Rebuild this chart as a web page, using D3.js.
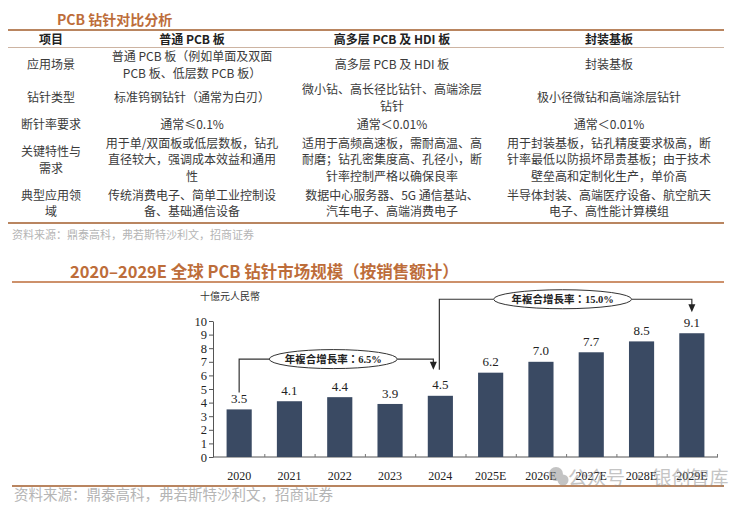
<!DOCTYPE html>
<html>
<head>
<meta charset="utf-8">
<script src="https://cdn.jsdelivr.net/npm/d3@7"></script>
<style>
  body { margin: 0; background: #fff; }
  svg { display: block; }
</style>
</head>
<body>
<svg id="chart" width="739" height="508"></svg>
<script>
// table content
const tableHeaders = ['项目', '普通 PCB 板', '高多层 PCB 及 HDI 板', '封装基板'];
const tableRows = [
  [['应用场景'], ['普通 PCB 板（例如单面及双面', 'PCB 板、低层数 PCB 板）'], ['高多层 PCB 及 HDI 板'], ['封装基板']],
  [['钻针类型'], ['标准钨钢钻针（通常为白刃）'], ['微小钻、高长径比钻针、高端涂层', '钻针'], ['极小径微钻和高端涂层钻针']],
  [['断针率要求'], ['通常≤0.1%'], ['通常＜0.01%'], ['通常＜0.01%']],
  [['关键特性与', '需求'], ['用于单/双面板或低层数板，钻孔', '直径较大，强调成本效益和通用', '性'],
    ['适用于高频高速板，需耐高温、高', '耐磨；钻孔密集度高、孔径小，断', '针率控制严格以确保良率'],
    ['用于封装基板，钻孔精度要求极高，断', '针率最低以防损坏昂贵基板；由于技术', '壁垒高和定制化生产，单价高']],
  [['典型应用领', '域'], ['传统消费电子、简单工业控制设', '备、基础通信设备'], ['数据中心服务器、5G 通信基站、', '汽车电子、高端消费电子'],
    ['半导体封装、高端医疗设备、航空航天', '电子、高性能计算模组']]
];

// chart data
const years = ['2020', '2021', '2022', '2023', '2024', '2025E', '2026E', '2027E', '2028E', '2029E'];
const sales = [3.5, 4.1, 4.4, 3.9, 4.5, 6.2, 7.0, 7.7, 8.5, 9.1];
const yTicks = [0, 1, 2, 3, 4, 5, 6, 7, 8, 9, 10];
const cagrLabels = ['年複合增長率：6.5%', '年複合增長率：15.0%'];
const cagrFrom = ['2020', '2024'];
const cagrTo = ['2024', '2029E'];
const sourceText = '资料来源：鼎泰高科，弗若斯特沙利文，招商证券';

const brown = '#bd6d3a';
const ruleColor = '#b98560';
const txt = '#3a3a3a';
const cjk = '"Noto Sans CJK SC", "Noto Sans", sans-serif';
const serif = '"Liberation Serif", "Noto Sans CJK TC", serif';

const svg = d3.select('#chart');
svg.append('rect').attr('width', 739).attr('height', 508).attr('fill', '#fff');

//---------------- table ----------------
svg.append('text')
  .attr('x', 57).attr('y', 25)
  .attr('font-family', cjk).attr('font-size', 14).attr('font-weight', 700)
  .attr('fill', brown)
  .text('PCB 钻针对比分析');

svg.append('line').attr('x1', 8).attr('x2', 724).attr('y1', 30).attr('y2', 30)
  .attr('stroke', ruleColor).attr('stroke-width', 2);
svg.append('line').attr('x1', 8).attr('x2', 724).attr('y1', 47.5).attr('y2', 47.5)
  .attr('stroke', '#cdb4a2').attr('stroke-width', 1);
svg.append('line').attr('x1', 8).attr('x2', 724).attr('y1', 223).attr('y2', 223)
  .attr('stroke', ruleColor).attr('stroke-width', 2);

const colX = [51, 192, 392, 609];
const rowY = [65, 98, 125, 160, 203.5];
const lineH = 16.5;

svg.append('g').selectAll('text')
  .data(tableHeaders)
  .join('text')
  .attr('x', (d, i) => colX[i]).attr('y', 40)
  .attr('dy', '0.36em')
  .attr('text-anchor', 'middle')
  .attr('font-family', cjk).attr('font-size', 12).attr('font-weight', 700)
  .attr('fill', '#222')
  .text(d => d);

tableRows.forEach((row, r) => {
  row.forEach((cell, c) => {
    const top = rowY[r] - (cell.length - 1) * lineH / 2;
    cell.forEach((line, k) => {
      svg.append('text')
        .attr('x', colX[c]).attr('y', top + k * lineH)
        .attr('dy', '0.36em')
        .attr('text-anchor', 'middle')
        .attr('font-family', cjk).attr('font-size', 12)
        .attr('fill', txt)
        .text(line);
    });
  });
});

svg.append('text')
  .attr('x', 12).attr('y', 235).attr('dy', '0.36em')
  .attr('font-family', cjk).attr('font-size', 11)
  .attr('fill', '#b5b5b5')
  .text(sourceText);

//---------------- bar chart ----------------
svg.append('text')
  .attr('x', 70).attr('y', 278)
  .attr('font-family', cjk).attr('font-size', 16.5).attr('font-weight', 700)
  .attr('fill', brown)
  .text('2020–2029E 全球 PCB 钻针市场规模（按销售额计）');
svg.append('line').attr('x1', 12).attr('x2', 724).attr('y1', 282).attr('y2', 282)
  .attr('stroke', brown).attr('stroke-width', 1.5);

const x = d3.scaleBand().domain(years).range([213, 718]).paddingInner(0.5).paddingOuter(0.27);
const y = d3.scaleLinear().domain([0, 10]).range([457, 321]);
const cx = d => x(d) + x.bandwidth() / 2;
const yv = d => y(sales[years.indexOf(d)]);

svg.append('text')
  .attr('x', 200).attr('y', 296).attr('dy', '0.36em')
  .attr('font-family', '"Noto Sans CJK TC", sans-serif').attr('font-size', 10)
  .attr('fill', '#333')
  .text('十億元人民幣');

// y axis
const yAxis = svg.append('g')
  .attr('transform', 'translate(213,0)')
  .call(d3.axisLeft(y).tickValues(yTicks).tickSize(4).tickSizeOuter(0).tickPadding(2));
yAxis.selectAll('path, line').attr('stroke', '#555');
yAxis.selectAll('text').attr('font-family', serif).attr('font-size', 12.5).attr('fill', '#222');

// x axis
svg.append('line')
  .attr('x1', x.range()[0]).attr('x2', x.range()[1])
  .attr('y1', y(0)).attr('y2', y(0))
  .attr('stroke', '#555');
svg.append('g').selectAll('line')
  .data(years)
  .join('line')
  .attr('x1', d => x(d) + x.step() * (1 - x.paddingInner() / 2) + 0.5)
  .attr('x2', d => x(d) + x.step() * (1 - x.paddingInner() / 2) + 0.5)
  .attr('y1', y(0)).attr('y2', y(0) - 3)
  .attr('stroke', '#777');
svg.append('g').selectAll('text')
  .data(years)
  .join('text')
  .attr('x', d => cx(d)).attr('y', 476).attr('dy', '0.36em')
  .attr('text-anchor', 'middle')
  .attr('font-family', serif).attr('font-size', 12)
  .attr('fill', '#222')
  .text(d => d);

// bars
svg.append('g').selectAll('rect')
  .data(years)
  .join('rect')
  .attr('x', d => x(d))
  .attr('width', x.bandwidth())
  .attr('y', d => yv(d))
  .attr('height', d => y(0) - yv(d))
  .attr('fill', '#3a4a63');

svg.append('g').selectAll('text')
  .data(years)
  .join('text')
  .attr('x', d => cx(d)).attr('y', d => yv(d) - 11).attr('dy', '0.36em')
  .attr('text-anchor', 'middle')
  .attr('font-family', serif).attr('font-size', 13)
  .attr('fill', '#222')
  .text((d, i) => sales[i].toFixed(1));

// CAGR annotations
const ann = svg.append('g');
const arrowDown = (ax, tip) => ann.append('path')
  .attr('d', `M${ax - 3.5},${tip - 8}L${ax + 3.5},${tip - 8}L${ax},${tip}Z`)
  .attr('fill', '#222');

const annotate = (i, level, rx, startDx, endDx) => {
  const x0 = cx(cagrFrom[i]) + startDx;
  const x1 = cx(cagrTo[i]) + endDx;
  const ey = y(level);
  const ex = (x0 + x1) / 2 - 3;
  const startY = yv(cagrFrom[i]) - (i === 0 ? 17 : 26);
  const tip = yv(cagrTo[i]) - (i === 0 ? 26 : 21);
  ann.append('path')
    .attr('d', `M${x0},${startY}V${ey}H${ex - rx}M${ex + rx},${ey}H${x1}V${tip - 7}`)
    .attr('fill', 'none').attr('stroke', '#333').attr('stroke-width', 1.2);
  arrowDown(x1, tip);
  ann.append('ellipse')
    .attr('cx', ex).attr('cy', ey).attr('rx', rx).attr('ry', 9.5)
    .attr('fill', '#fff').attr('stroke', '#333').attr('stroke-width', 1);
  ann.append('text')
    .attr('x', ex).attr('y', ey).attr('dy', '0.36em')
    .attr('text-anchor', 'middle')
    .attr('font-family', serif).attr('font-size', 10.5).attr('font-weight', 700)
    .attr('fill', '#222')
    .text(cagrLabels[i]);
};
annotate(0, 7.2, 64, 0, -7);
annotate(1, 11.6, 69, -1, 0);

// bottom rule + source
svg.append('line').attr('x1', 12).attr('x2', 724).attr('y1', 486).attr('y2', 486)
  .attr('stroke', ruleColor).attr('stroke-width', 2);
svg.append('text')
  .attr('x', 14).attr('y', 495).attr('dy', '0.36em')
  .attr('font-family', cjk).attr('font-size', 14.5)
  .attr('fill', '#b5b5b5')
  .text(sourceText);

// watermark (sits over the axis labels, as in the source image)
const wm = svg.append('g').attr('opacity', 0.5);
wm.append('circle').attr('cx', 556).attr('cy', 474).attr('r', 7).attr('fill', '#888');
wm.append('circle').attr('cx', 563).attr('cy', 480).attr('r', 5.5).attr('fill', '#888');
wm.append('text')
  .attr('x', 568).attr('y', 478).attr('dy', '0.36em')
  .attr('font-family', cjk).attr('font-size', 19)
  .attr('fill', '#8a8a8a')
  .text('公众号 · 银创智库');
</script>
</body>
</html>
